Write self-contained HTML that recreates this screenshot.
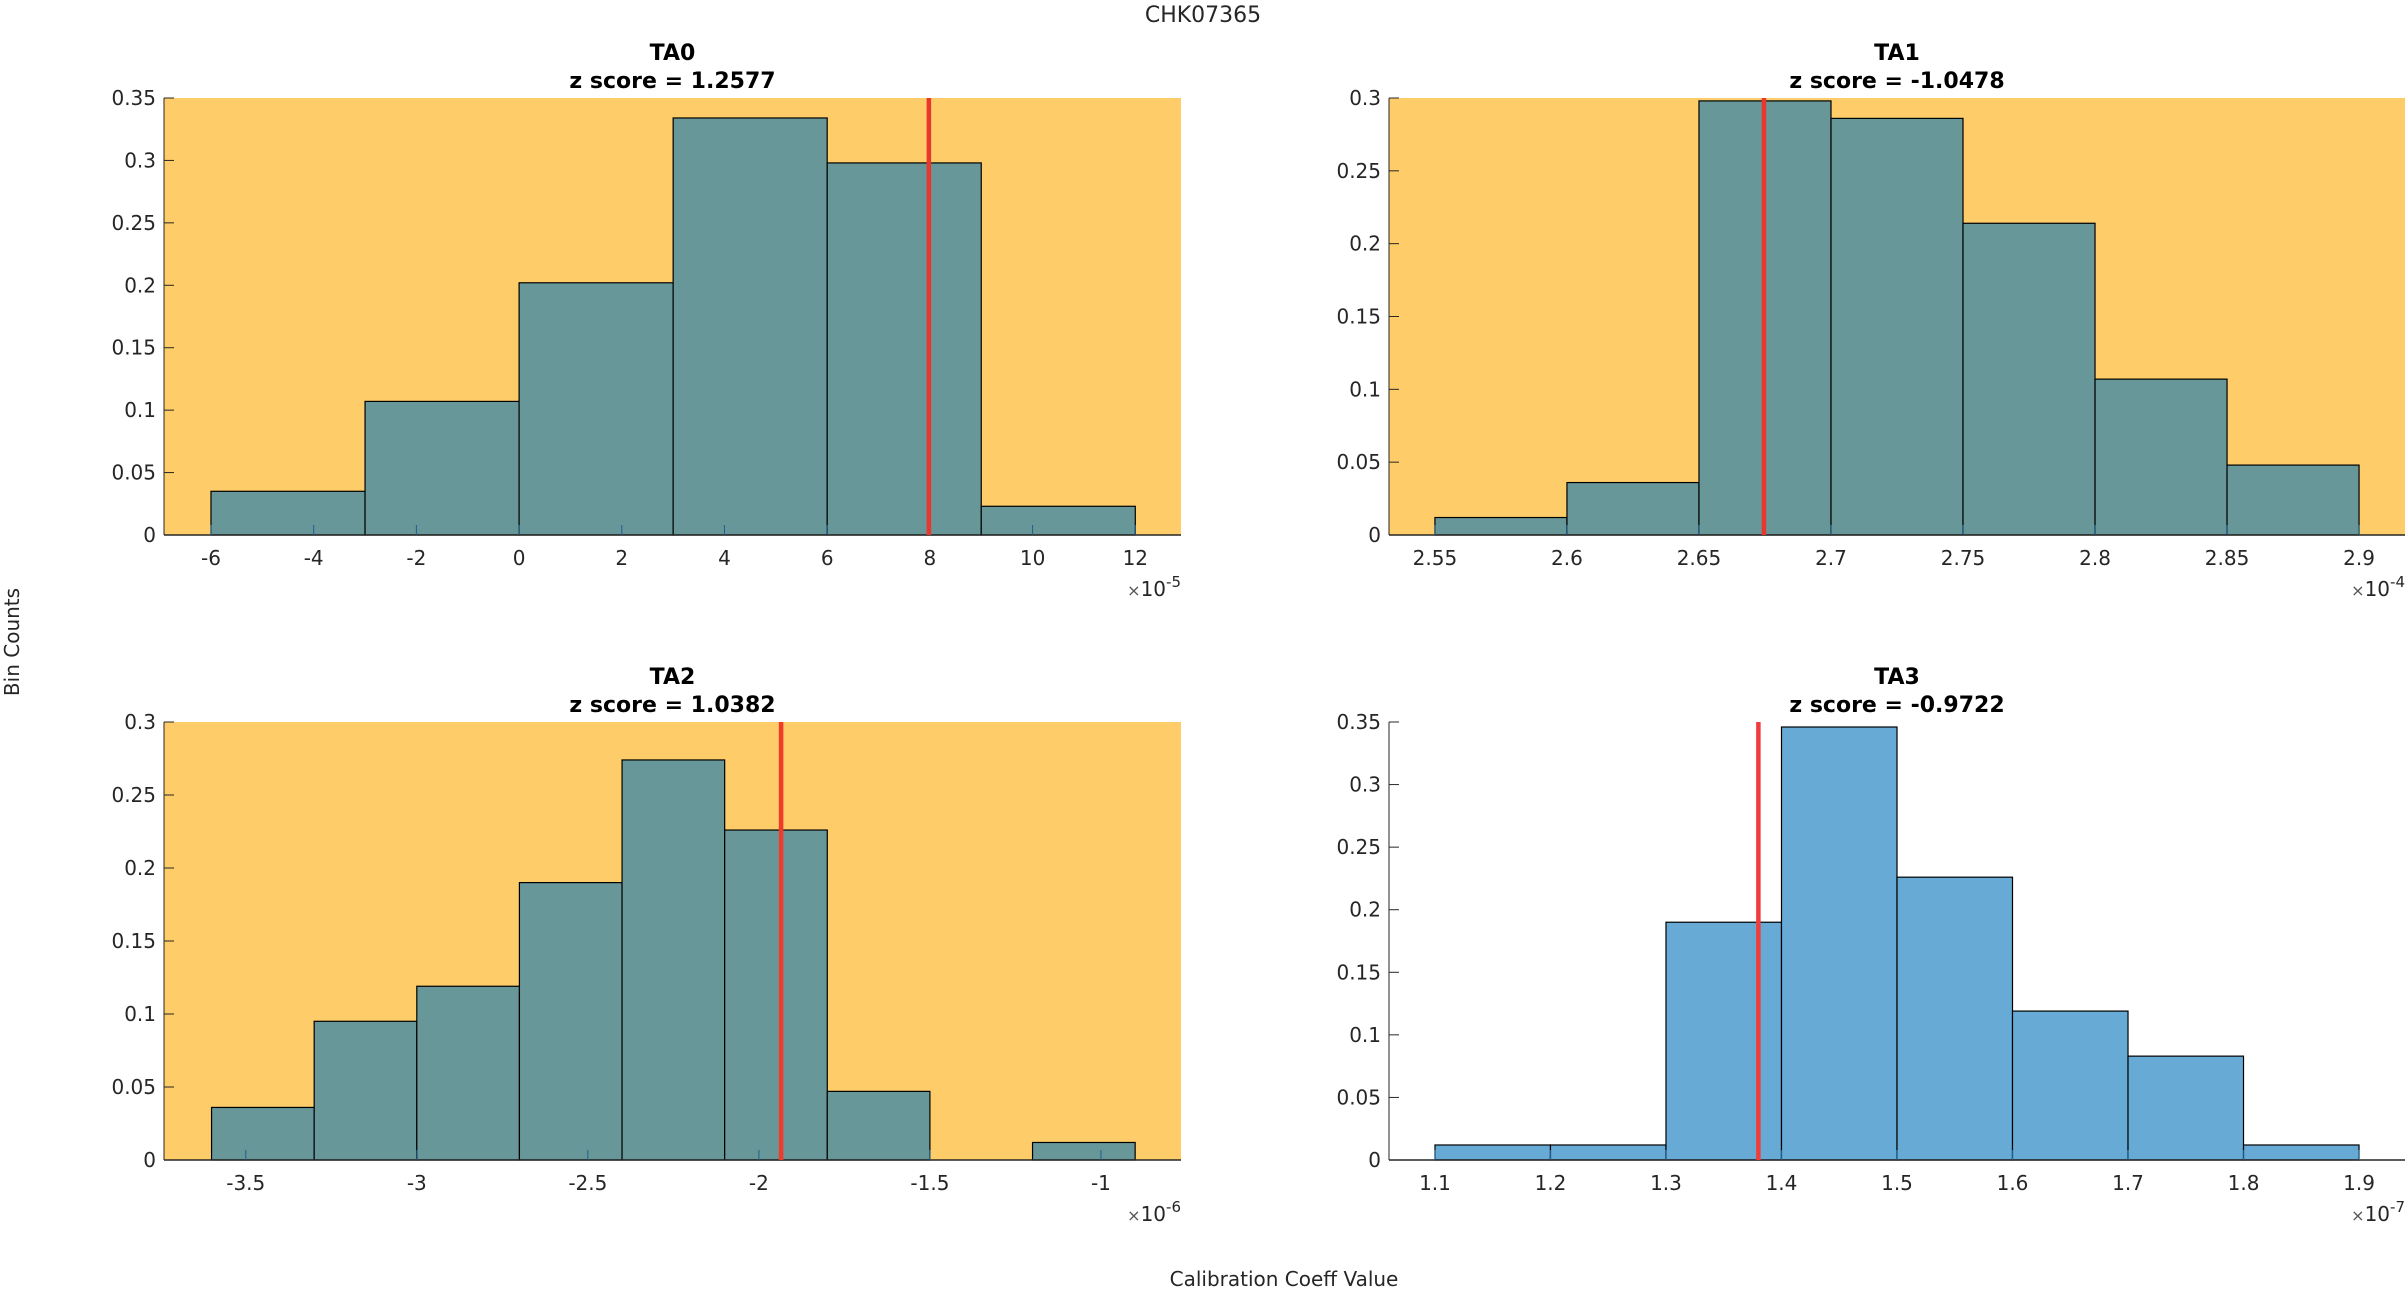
<!DOCTYPE html>
<html><head><meta charset="utf-8"><style>
html,body{margin:0;padding:0;background:#fff;}
svg{display:block;font-family:"DejaVu Sans","Liberation Sans",sans-serif;}
</style></head><body>
<svg id="fig" width="2407" height="1290" viewBox="0 0 2407 1290" xmlns="http://www.w3.org/2000/svg">
<text x="1203" y="22" text-anchor="middle" font-size="22" fill="#262626">CHK07365</text>
<text transform="translate(19,642) rotate(-90)" text-anchor="middle" font-size="20" fill="#262626">Bin Counts</text>
<text x="1284" y="1286" text-anchor="middle" font-size="20" fill="#262626">Calibration Coeff Value</text>
</svg>
<script>
// TA0
const ta0Edges = [-6, -3, 0, 3, 6, 9, 12];
const ta0Values = [0.035, 0.107, 0.202, 0.334, 0.298, 0.023];
const ta0XTicks = [-6, -4, -2, 0, 2, 4, 6, 8, 10, 12];
const ta0XTickLabels = ['-6','-4','-2','0','2','4','6','8','10','12'];
const ta0YTicks = [0, 0.05, 0.1, 0.15, 0.2, 0.25, 0.3, 0.35];
const ta0Marker = 7.98;
// TA1
const ta1Edges = [2.55, 2.6, 2.65, 2.7, 2.75, 2.8, 2.85, 2.9];
const ta1Values = [0.012, 0.036, 0.298, 0.286, 0.214, 0.107, 0.048];
const ta1XTicks = [2.55, 2.6, 2.65, 2.7, 2.75, 2.8, 2.85, 2.9];
const ta1XTickLabels = ['2.55','2.6','2.65','2.7','2.75','2.8','2.85','2.9'];
const ta1YTicks = [0, 0.05, 0.1, 0.15, 0.2, 0.25, 0.3];
const ta1Marker = 2.6746;
// TA2
const ta2Edges = [-3.6, -3.3, -3.0, -2.7, -2.4, -2.1, -1.8, -1.5, -1.2, -0.9];
const ta2Values = [0.036, 0.095, 0.119, 0.190, 0.274, 0.226, 0.047, 0, 0.012];
const ta2XTicks = [-3.5, -3, -2.5, -2, -1.5, -1];
const ta2XTickLabels = ['-3.5','-3','-2.5','-2','-1.5','-1'];
const ta2YTicks = [0, 0.05, 0.1, 0.15, 0.2, 0.25, 0.3];
const ta2Marker = -1.935;
// TA3
const ta3Edges = [1.1, 1.2, 1.3, 1.4, 1.5, 1.6, 1.7, 1.8, 1.9];
const ta3Values = [0.012, 0.012, 0.190, 0.346, 0.226, 0.119, 0.083, 0.012];
const ta3XTicks = [1.1, 1.2, 1.3, 1.4, 1.5, 1.6, 1.7, 1.8, 1.9];
const ta3XTickLabels = ['1.1','1.2','1.3','1.4','1.5','1.6','1.7','1.8','1.9'];
const ta3YTicks = [0, 0.05, 0.1, 0.15, 0.2, 0.25, 0.3, 0.35];
const ta3Marker = 1.38;

const NS = 'http://www.w3.org/2000/svg';
const fig = document.getElementById('fig');
function mk(tag, attrs, parent, text){
  const e = document.createElementNS(NS, tag);
  for (const k in attrs) e.setAttribute(k, attrs[k]);
  if (text !== undefined) e.textContent = text;
  parent.appendChild(e);
  return e;
}
function fmtY(v){ return String(+v.toFixed(2)); }

function panel(o){
  const g = mk('g', {}, fig);
  
  
  const L=o.L,R=o.R,T=o.T,B=o.B;
  const sx = v => L + (v - o.xmin) / (o.xmax - o.xmin) * (R - L);
  const sy = v => B - (v - 0) / o.ymax * (B - T);
  if (o.bg){
    const bg = mk('rect', {x:L, y:T, width:R-L, height:B-T, fill:o.bg}, g);
    
    
  }
  for (let i=0;i<o.values.length;i++){
    const x0 = sx(o.edges[i]), x1 = sx(o.edges[i+1]), y = sy(o.values[i]);
    const r = mk('rect', {x:x0, y:y, width:x1-x0, height:B-y, fill:o.face, stroke:'#000', 'stroke-width':1.2}, g);
    
    
  }
  // axes lines
  const xa = mk('line', {x1:L, x2:R, y1:B, y2:B, stroke:'#262626', 'stroke-width':1.5}, g);
  
  
  const ya = mk('line', {x1:L, x2:L, y1:T, y2:B, stroke:'#262626', 'stroke-width':1}, g);
  
  
  o.yticks.forEach(v=>{
    const y = sy(v);
    const t = mk('line', {x1:L, x2:L+10, y1:y, y2:y, stroke:'#262626', 'stroke-width':1}, g);
    
    
    const lb = mk('text', {x:L-8, y:y+7, 'text-anchor':'end', 'font-size':20, fill:'#262626'}, g, fmtY(v));
    
    
  });
  o.xticks.forEach((v,i)=>{
    const x = sx(v);
    const t = mk('line', {x1:x, x2:x, y1:B, y2:B-10, stroke:'#1f5f8b', 'stroke-width':1}, g);
    
    
    const lb = mk('text', {x:x, y:B+30, 'text-anchor':'middle', 'font-size':20, fill:'#262626'}, g, o.xlabels[i]);
    
    
  });
  const ex = mk('text', {x:R, y:B+61, 'text-anchor':'end', 'font-size':20, fill:'#262626'}, g);
  
  
  mk('tspan', {'font-size':16, fill:'#555'}, ex, '\u00d7');
  mk('tspan', {}, ex, '10');
  mk('tspan', {dy:-9, 'font-size':15}, ex, o.exp);
  const m = sx(o.marker);
  const rl = mk('line', {x1:m, x2:m, y1:T, y2:B, stroke:o.red, 'stroke-width':4.5}, g);
  
  
  const cx = (L+R)/2;
  const t1 = mk('text', {x:cx, y:T-38, 'text-anchor':'middle', 'font-size':22, 'font-weight':'bold', fill:'#000'}, g, o.name.toUpperCase());
  
  
  const t2 = mk('text', {x:cx, y:T-10, 'text-anchor':'middle', 'font-size':22, 'font-weight':'bold', fill:'#000'}, g, 'z score = ' + o.z);
  
  
}

panel({name:'ta0', L:164, R:1181, T:98, B:535, xmin:-6.915, xmax:12.89, ymax:0.35,
  edges:ta0Edges, values:ta0Values, xticks:ta0XTicks, xlabels:ta0XTickLabels, yticks:ta0YTicks,
  marker:ta0Marker, bg:'#fecc68', face:'#679799', red:'#e8372c', exp:'-5', z:'1.2577'});
panel({name:'ta1', L:1389, R:2405, T:98, B:535, xmin:2.5326, xmax:2.9174, ymax:0.3,
  edges:ta1Edges, values:ta1Values, xticks:ta1XTicks, xlabels:ta1XTickLabels, yticks:ta1YTicks,
  marker:ta1Marker, bg:'#fecc68', face:'#679799', red:'#e8372c', exp:'-4', z:'-1.0478'});
panel({name:'ta2', L:164, R:1181, T:722, B:1160, xmin:-3.739, xmax:-0.766, ymax:0.3,
  edges:ta2Edges, values:ta2Values, xticks:ta2XTicks, xlabels:ta2XTickLabels, yticks:ta2YTicks,
  marker:ta2Marker, bg:'#fecc68', face:'#679799', red:'#f03a2a', exp:'-6', z:'1.0382'});
panel({name:'ta3', L:1389, R:2405, T:722, B:1160, xmin:1.0602, xmax:1.9398, ymax:0.35,
  edges:ta3Edges, values:ta3Values, xticks:ta3XTicks, xlabels:ta3XTickLabels, yticks:ta3YTicks,
  marker:ta3Marker, bg:null, face:'#67aad6', red:'#f03c3c', exp:'-7', z:'-0.9722'});
</script>
</body></html>
